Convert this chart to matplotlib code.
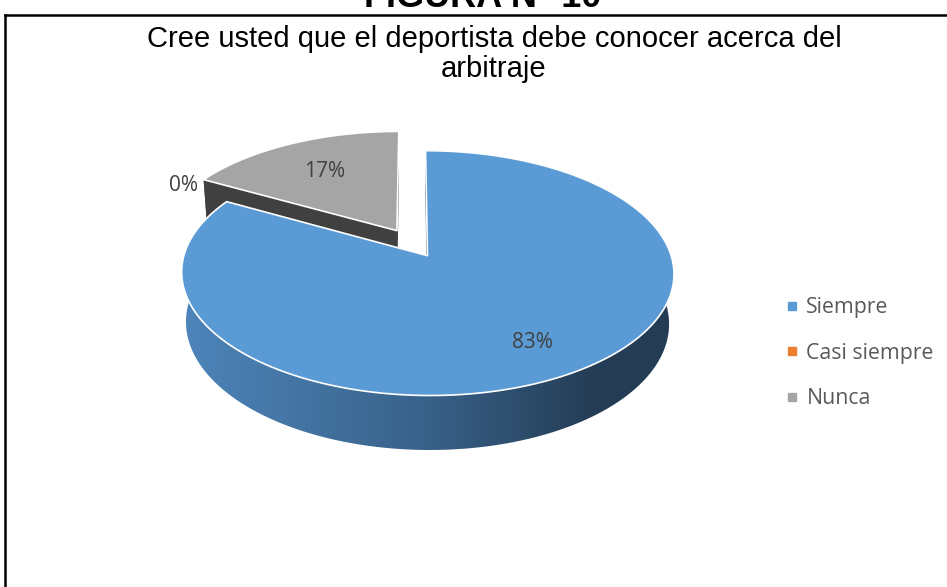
import numpy as np
import matplotlib
matplotlib.use('Agg')
import matplotlib.pyplot as plt
from matplotlib.patches import Polygon
from matplotlib.lines import Line2D
from matplotlib.colors import LinearSegmentedColormap

categorias = ['Siempre', 'Casi siempre', 'Nunca']
porcentajes = [83, 0, 17]
colores = ['#5B9BD5', '#ED7D31', '#A5A5A5']
lado_oscuro = ['#2E5478', '#9E4F1A', '#404040']

titulo = 'Cree usted que el deportista debe conocer acerca del\narbitraje'
figura = 'FIGURA N° 10'

W, H = 947, 587
fig = plt.figure(figsize=(W / 100, H / 100), dpi=100)
ax = fig.add_axes([0, 0, 1, 1])
ax.set_xlim(0, W)
ax.set_ylim(H, 0)
ax.axis('off')

# geometria del pastel 3D (en pixeles)
CX, CY = 412, 243
R = 240
ALFA = np.radians(29)
F = 1500
ALTO = 57
SEP = 30


def proyectar(x, y, z):
    ys = z * np.cos(ALFA) + y * np.sin(ALFA)
    d = y * np.cos(ALFA) - z * np.sin(ALFA)
    s = F / (F + d)
    return CX + x * s, CY - ys * s, d


total = sum(porcentajes)
inicio = 0.0
paredes = []
tapas = []
etiquetas = []
for i, p in enumerate(porcentajes):
    ang = 2 * np.pi * p / total
    t0, t1 = inicio, inicio + ang
    inicio = t1
    mid = (t0 + t1) / 2
    etiquetas.append((p, mid))
    if p == 0:
        continue
    ox, oy = SEP * np.sin(mid), SEP * np.cos(mid)
    th = np.linspace(t0, t1, 200)
    ax_ = ox + R * np.sin(th)
    ay_ = oy + R * np.cos(th)
    # tapa superior
    xs, ys, _ = proyectar(np.r_[ox, ax_], np.r_[oy, ay_], np.zeros(len(th) + 1))
    tapas.append((np.c_[xs, ys], colores[i]))
    # pared exterior
    xt, yt, dt = proyectar(ax_, ay_, np.zeros_like(th))
    xb, yb, db = proyectar(ax_, ay_, -ALTO * np.ones_like(th))
    pts = np.r_[np.c_[xt, yt], np.c_[xb, yb][::-1]]
    paredes.append((np.mean(dt), pts, i, 'ext'))
    # paredes radiales
    for t in (t0, t1):
        px = np.array([ox, ox + R * np.sin(t), ox + R * np.sin(t), ox])
        py = np.array([oy, oy + R * np.cos(t), oy + R * np.cos(t), oy])
        pz = np.array([0, 0, -ALTO, -ALTO])
        x4, y4, d4 = proyectar(px, py, pz)
        paredes.append((np.mean(d4), np.c_[x4, y4], i, 'rad'))

# degradado del costado azul
cmap_lado = LinearSegmentedColormap.from_list(
    'lado', [(0, '#5089C0'), (0.5, '#39628A'), (0.82, '#243D55'), (1, '#243D55')])
grad = np.linspace(0, 1, 256)[None, :]

for _, pts, i, tipo in sorted(paredes, key=lambda w: -w[0]):
    if tipo == 'ext' and i == 0:
        poly = Polygon(pts, closed=True, facecolor='none', edgecolor='none')
        ax.add_patch(poly)
        im = ax.imshow(grad, cmap=cmap_lado, aspect='auto',
                       extent=(CX - R - 20, CX + R + 40, H, 0), zorder=1)
        im.set_clip_path(poly)
    else:
        ax.add_patch(Polygon(pts, closed=True, facecolor=lado_oscuro[i],
                             edgecolor='none', zorder=1))

for pts, c in tapas:
    ax.add_patch(Polygon(pts, closed=True, facecolor=c, edgecolor='white',
                         linewidth=1.2, joinstyle='round', zorder=2))

# etiquetas de datos
for p, mid in etiquetas:
    if p == 0:
        lx, ly, _ = proyectar((R + 42) * np.sin(mid), (R + 42) * np.cos(mid), 0)
        ly += 4
    else:
        r = 0.72 * R + SEP
        lx, ly, _ = proyectar(r * np.sin(mid), r * np.cos(mid), 0)
        lx += 6
        ly += 5
    ax.text(lx, ly, f'{p}%', ha='center', va='center', fontsize=15,
            family='Open Sans', color='#404040', zorder=3)

# titulos
ax.text(494, 47, titulo.split('\n')[0], ha='center', va='baseline', fontsize=21,
        family='Liberation Sans', color='black')
ax.text(494, 77, titulo.split('\n')[1], ha='center', va='baseline', fontsize=21,
        family='Liberation Sans', color='black')
ax.text(483, 7, figura, ha='center', va='baseline', fontsize=26, fontweight='bold',
        family='Liberation Sans', color='black')

# borde del grafico
ax.plot([5, 5], [H, 15], color='black', lw=1.8, solid_capstyle='projecting')
ax.plot([5, W], [15, 15], color='black', lw=1.8, solid_capstyle='projecting')

# leyenda
handles = [Line2D([], [], marker='s', linestyle='', markersize=6, color=c) for c in colores]
fig.legend(handles, categorias, loc='center left', bbox_to_anchor=(766 / W, 1 - 353 / H),
           frameon=False, prop={'family': 'Open Sans', 'size': 15.3}, labelcolor='#595959',
           handlelength=0.6, handletextpad=0.4, labelspacing=1.15)

fig.savefig('out.png', dpi=100)
